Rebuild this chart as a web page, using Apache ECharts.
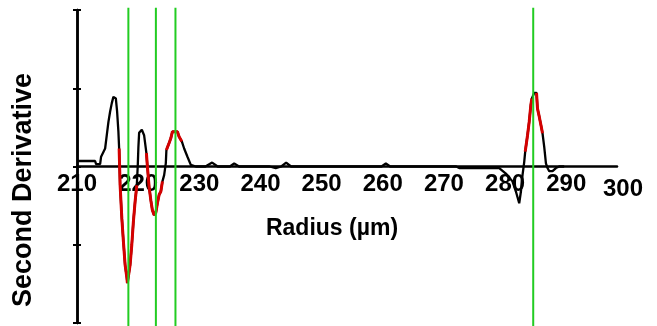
<!DOCTYPE html>
<html>
<head>
<meta charset="utf-8">
<script src="https://cdn.jsdelivr.net/npm/echarts@6/dist/echarts.min.js"></script>
<style>
html,body{margin:0;padding:0;background:#fff;}
#chart{width:657px;height:326px;}
</style>
</head>
<body>
<div id="chart"></div>
<script>
// Data
const radius = [210, 212.96, 213.12, 213.78, 213.94, 214.60, 214.87, 215.14, 215.41, 215.69, 215.95, 216.35, 216.56, 216.77,
  216.89, 217.05, 217.33, 217.59, 217.87, 218.15, 218.24, 218.68, 218.96, 219.22, 219.50, 219.78,
  219.94, 220.04, 220.16, 220.60, 220.97,
  221.35, 221.51, 221.79, 222.07, 222.33, 222.61, 222.89, 223.15, 223.43, 223.71, 223.97,
  224.25, 224.52,
  224.62, 225.06, 225.34, 225.60, 225.88, 226.42, 226.70, 227.14,
  227.52, 228.06, 228.61, 229.43, 231.0, 232.1, 233.0, 235.0, 235.7, 236.5, 238.6, 241.5, 242.5, 243.4, 244.2, 245.0,
  259.8, 260.5, 261.2, 272.0, 272.5, 278.5, 279.04, 280.13, 281.21, 281.77, 282.31, 282.59, 282.85, 283.13,
  283.29, 283.67, 283.94, 284.22, 284.38, 284.76, 285.14, 285.30, 285.58, 285.86, 286.12,
  286.40, 286.68, 286.94, 287.22, 287.76, 288.31, 288.85, 289.67];
const deriv = [0.07, 0.07, 0.03, 0.03, 0.125, 0.23, 0.40, 0.57, 0.70, 0.81, 0.89, 0.87, 0.70, 0.445,
  0.23, -0.24, -0.66, -0.96, -1.26, -1.42, -1.49, -1.26, -1.00, -0.705, -0.45, -0.24,
  0.02, 0.25, 0.43, 0.47, 0.40,
  0.17, 0.00, -0.26, -0.43, -0.56, -0.62, -0.59, -0.47, -0.36, -0.32, -0.19,
  -0.11, 0.04,
  0.21, 0.30, 0.36, 0.445, 0.47, 0.445, 0.38, 0.32,
  0.23, 0.125, 0.02, 0.00, 0.00, 0.05, 0.00, 0.00, 0.04, 0.00, 0.00, 0.00, -0.02, 0.00, 0.05, 0.00,
  0.00, 0.04, 0.00, 0.00, -0.02, -0.02, -0.02, -0.09, -0.19, -0.32, -0.47, -0.32, -0.11, 0.06,
  0.19, 0.40, 0.57, 0.79, 0.87, 0.94, 0.94, 0.74, 0.64, 0.53, 0.425,
  0.25, 0.04, -0.02, -0.06, -0.06, -0.02, 0.00, 0.00];
// Highlighted (red) portions, as radius ranges
const redRanges = [[216.89, 219.78], [221.35, 223.97], [224.62, 227.14], [283.29, 284.38], [285.14, 286.12]];
// Vertical green reference lines (radius)
const greenLines = [218.4, 222.9, 226.1, 284.6];
// Axis ticks
const xTicks = [210, 220, 230, 240, 250, 260, 270, 280, 290, 300];
const yTicks = [-2, -1, 0, 1, 2];
const xMin = 210, xMax = 298.3;
const yMin = -2, yMax = 2;

const labelFont = "'Liberation Sans',Arial,sans-serif";
const titleFont = "'Liberation Sans',Arial,sans-serif";

const W = 657, H = 326;
const gridL = 77, gridR = 40, gridT = 10, gridB = 3;
const plotH = H - gridT - gridB;
const zeroOffset = -plotH * (0 - yMin) / (yMax - yMin); // moves the x axis up to y = 0

const mainData = radius.map((r, i) => [r, deriv[i]]);
const series = [{
  type: 'line', data: mainData, symbol: 'none', silent: true,
  lineStyle: {color: '#000', width: 2.3}, z: 2
}];
redRanges.forEach(rg => {
  series.push({
    type: 'line', symbol: 'none', silent: true,
    data: mainData.filter(p => p[0] >= rg[0] - 1e-6 && p[0] <= rg[1] + 1e-6),
    lineStyle: {color: '#d40000', width: 3}, z: 3
  });
});
greenLines.forEach(g => {
  series.push({
    type: 'line', symbol: 'none', silent: true, clip: false,
    data: [[g, yMin - 0.04], [g, yMax + 0.03]],
    lineStyle: {color: '#22cc22', width: 2}, z: 4
  });
});

const chart = echarts.init(document.getElementById('chart'), null, {renderer: 'canvas'});
const yAxisBase = {
  type: 'value', min: yMin, max: yMax, interval: 1,
  axisLine: {show: true, onZero: false, lineStyle: {color: '#000', width: 2.5}},
  axisLabel: {show: false}, splitLine: {show: false}
};
chart.setOption({
  animation: false,
  grid: {left: gridL, right: gridR, top: gridT, bottom: gridB, containLabel: false, outerBoundsMode: 'none'},
  xAxis: {
    type: 'value', min: xMin, max: xMax, interval: 10,
    position: 'bottom', offset: zeroOffset,
    axisLine: {onZero: false, lineStyle: {color: '#000', width: 2.5}},
    axisTick: {show: false},
    splitLine: {show: false},
    axisLabel: {
      margin: 6, color: '#000', fontWeight: 'bold', fontSize: 24, fontFamily: labelFont,
      showMaxLabel: false,
      formatter: v => (xTicks.indexOf(Math.round(v * 1000) / 1000) >= 0 && v < xMax ? String(v) : '')
    }
  },
  yAxis: [
    Object.assign({}, yAxisBase, {axisTick: {show: true, inside: false, length: 4, lineStyle: {color: '#000', width: 2}}}),
    Object.assign({}, yAxisBase, {position: 'left', offset: 0, axisTick: {show: true, inside: true, length: 4, lineStyle: {color: '#000', width: 2}}})
  ],
  series: series
});

const endPx = chart.convertToPixel({xAxisIndex: 0}, xMax);
const zeroPy = chart.convertToPixel({yAxisIndex: 0}, 0);
chart.setOption({
  graphic: [
    {type: 'text', x: endPx + 6, y: zeroPy + 23, silent: true,
     style: {text: String(xTicks[xTicks.length - 1]), fill: '#000', font: "bold 24px " + labelFont, align: 'center', verticalAlign: 'middle'}},
    {type: 'text', x: 332, y: 229, silent: true,
     style: {text: 'Radius (µm)', fill: '#000', font: "bold 23px " + titleFont, align: 'center', verticalAlign: 'middle'}},
    {type: 'text', x: 24, y: 190, rotation: Math.PI / 2, silent: true,
     style: {text: 'Second Derivative', fill: '#000', font: "bold 27px " + titleFont, align: 'center', verticalAlign: 'middle'}}
  ]
});
</script>
</body>
</html>
